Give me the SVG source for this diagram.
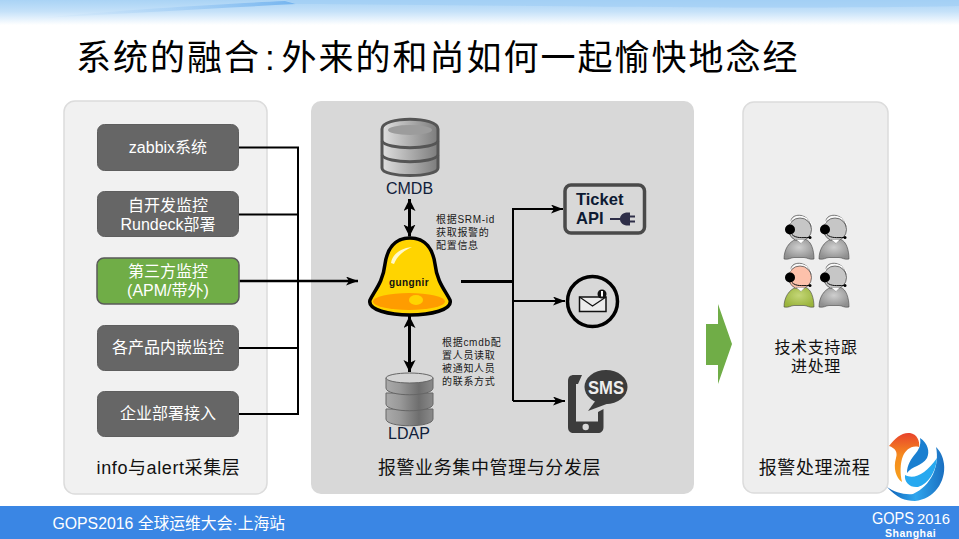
<svg xmlns="http://www.w3.org/2000/svg" width="959" height="539" viewBox="0 0 959 539">
<style>
text{font-family:"Liberation Sans","Noto Sans CJK SC",sans-serif}
.c{text-anchor:middle}
.w{fill:#fff;font-size:16px}
.k{fill:#111;font-size:18px;letter-spacing:.6px}
.s{fill:#111;font-size:16px;letter-spacing:.6px}
.n{fill:#1a1a1a;font-size:10px;letter-spacing:.7px}
.panel{stroke:#dcdcdc;stroke-width:1.5}
.box{fill:#666;stroke:#5e5e5e;stroke-width:1}
.l{fill:none;stroke:#000;stroke-width:2}
.t{fill:none;stroke:#000;stroke-width:3}
.m{fill:none;stroke:#000;stroke-width:2.500}
.disk{fill:url(#ld);stroke:#666;stroke-width:1}
</style>
<defs>
<linearGradient id="top" x1="0" y1="0" x2="0" y2="1"><stop offset="0" stop-color="#a9d3f5"/><stop offset=".45" stop-color="#c4e1f9"/><stop offset="1" stop-color="#fff"/></linearGradient>
<linearGradient id="swoosh" x1="0" y1="0" x2="1" y2="0"><stop offset="0" stop-color="#cfe6fa" stop-opacity=".2"/><stop offset="1" stop-color="#74b4ef"/></linearGradient>
<linearGradient id="dbg" x1="0" y1="0" x2="1" y2="0"><stop offset="0" stop-color="#e0e0e0"/><stop offset=".6" stop-color="#a4a4a4"/><stop offset="1" stop-color="#7c7c7c"/></linearGradient>
<linearGradient id="ld" x1="0" y1="0" x2="1" y2="0"><stop offset="0" stop-color="#aaa"/><stop offset=".3" stop-color="#999"/><stop offset=".7" stop-color="#6e6e6e"/><stop offset="1" stop-color="#8a8a8a"/></linearGradient>
<linearGradient id="ring" x1="0" y1="0" x2="1" y2="0"><stop offset="0" stop-color="#0d5fb5"/><stop offset=".5" stop-color="#2fa6ee"/><stop offset="1" stop-color="#1b6fc0"/></linearGradient>
<linearGradient id="fire" x1="0" y1="0" x2="0" y2="1"><stop offset="0" stop-color="#e8432c"/><stop offset=".45" stop-color="#f58a1f"/><stop offset="1" stop-color="#f7a21c"/></linearGradient>
<radialGradient id="gb" cx=".5" cy=".4" r=".6"><stop offset="0" stop-color="#cfcfcf"/><stop offset="1" stop-color="#8f8f8f"/></radialGradient>
<radialGradient id="gg" cx=".5" cy=".4" r=".6"><stop offset="0" stop-color="#c4d678"/><stop offset="1" stop-color="#9ab43c"/></radialGradient>
<marker id="ah" markerWidth="13" markerHeight="10" refX="12" refY="4.500" orient="auto-start-reverse" markerUnits="userSpaceOnUse"><path d="M0 0L12 4.500L0 9L3 4.500Z" fill="#000"/></marker>
<marker id="ab" markerWidth="14" markerHeight="14" refX="12" refY="6" orient="auto-start-reverse" markerUnits="userSpaceOnUse"><path d="M0 0L12 6L0 12L3 6Z" fill="#000"/></marker>
<path id="body" d="M-16 29.500C-16 20 -11 12 -4 10L6 10C11 12 14 20 14 29.500C9 30.500 7 28 4 28L-6 28C-9 28 -11 30.500 -16 29.500Z" stroke="#444" stroke-width=".6"/>
<g id="gear">
<path d="M-4 10L1 14L5 10Z" fill="#fff" stroke="#777" stroke-width=".4"/>
<path d="M-9 -8C-9 -17 9 -17 11 -3" fill="none" stroke="#555" stroke-width=".8"/>
<path d="M-10 -6C-8 -15 8 -16 12 -4" fill="none" stroke="#fff" stroke-width="1"/>
<circle cx="-10" cy="0" r="5"/>
<path d="M-8 5C-4 9 2 8 9 8" fill="none" stroke="#111" stroke-width="1"/>
<circle cx="10" cy="8" r="1.500"/>
</g>
</defs>

<rect id="bg" width="959" height="539" fill="#fff"/>
<g id="banner">
<rect width="959" height="25" fill="url(#top)"/>
<path d="M40 18C130 9 220 4 285 1L296 4C220 8 130 13 40 18Z" fill="url(#swoosh)"/>
<path d="M296 4L285 0L959 0L959 6C760 10 500 5 296 4Z" fill="#9fcdf5" opacity=".6"/>
</g>
<text id="title" y="70" font-size="35" fill="#000"><tspan x="76" letter-spacing="2">系统的融合</tspan><tspan x="265">:</tspan><tspan x="281.500" letter-spacing="2">外来的和尚如何一起愉快地念经</tspan></text>

<rect id="panel-collect" class="panel" x="64" y="101" width="203" height="393" rx="11" fill="#f1f1f1"/>
<rect id="panel-manage" x="311" y="101" width="383" height="393" rx="10" fill="#d8d8d8"/>
<rect id="panel-handle" class="panel" x="743" y="102" width="145" height="391" rx="11" fill="#eeeeee"/>

<g id="connectors">
<path class="l" d="M239 147.500H298V414H239M239 214.500H298M239 348H298"/>
<path class="m" d="M239.500 281H358" marker-end="url(#ah)"/>
<path class="t" d="M409.500 199V236.500" marker-start="url(#ab)" marker-end="url(#ab)"/>
<path class="t" d="M409.500 316V372" marker-start="url(#ab)" marker-end="url(#ab)"/>
<path class="t" d="M461 281.500H513"/>
<path class="l" d="M513 401V209H563" marker-end="url(#ah)"/>
<path class="l" d="M513 301H565" marker-end="url(#ah)"/>
<path class="l" d="M513 401H565" marker-end="url(#ah)"/>
</g>

<g id="n-zabbix"><rect class="box" x="97.500" y="124.500" width="141" height="46" rx="7"/><text class="w c" x="168" y="153">zabbix系统</text></g>
<g id="n-rundeck"><rect class="box" x="97.500" y="191.500" width="141" height="45" rx="7"/><text class="w c" x="168" y="211">自开发监控</text><text class="w c" x="168" y="230">Rundeck部署</text></g>
<g id="n-third"><rect x="97" y="258" width="142" height="46" rx="7" fill="#70ad47" stroke="#595959" stroke-width="1.500"/><text class="w c" x="168" y="277">第三方监控</text><text class="w c" x="168" y="296">(APM/带外)</text></g>
<g id="n-embedded"><rect class="box" x="97.500" y="325.500" width="141" height="45" rx="7"/><text class="w c" x="168" y="353">各产品内嵌监控</text></g>
<g id="n-enterprise"><rect class="box" x="97.500" y="391.500" width="141" height="45" rx="7"/><text class="w c" x="168" y="419">企业部署接入</text></g>
<text id="label-collect" class="k c" x="168.500" y="474">info与alert采集层</text>

<g id="n-cmdb">
<path d="M382 129C382 116 438 116 438 129V168C438 178 382 178 382 168Z" fill="url(#dbg)" stroke="#555" stroke-width="3"/>
<path d="M382 141C386 150 434 150 438 141M382 155C386 164 434 164 438 155" fill="none" stroke="#555" stroke-width="3"/>
<ellipse cx="410" cy="130" rx="22" ry="5" fill="#9c9c9c"/>
<text x="409.500" y="194" class="c" font-size="16" fill="#10203a">CMDB</text>
</g>
<g id="n-gungnir">
<path d="M410 238C426 238 433 250 435 264C437 282 445 290 450 300C453 310 430 315 410 315C390 315 367 310 370 300C375 290 383 282 385 264C387 250 394 238 410 238Z" fill="#ffd400" stroke="#000" stroke-width="3.500"/>
<ellipse cx="409" cy="301.500" rx="36" ry="8.500" fill="#ff9c00"/>
<ellipse cx="416" cy="300" rx="7" ry="5" fill="#ffd400"/>
<path d="M391 263C392 255 400 248 412 247C403 251 397 256 394 264Z" fill="#fff8c8"/>
<text x="409" y="286" class="c" font-size="10" font-weight="bold" fill="#111" letter-spacing=".4">gungnir</text>
</g>
<g id="n-ldap">
<path class="disk" d="M386 409V419C386 428 433 428 433 419V409Z"/>
<path class="disk" d="M386 393V404C386 413 433 413 433 404V393Z"/>
<path class="disk" d="M386 378V388C386 397 433 397 433 388V378Z"/>
<ellipse cx="409.500" cy="378" rx="23.500" ry="5" fill="#d4d4d4" stroke="#666"/>
<text x="409" y="439" class="c" font-size="16" fill="#10203a">LDAP</text>
</g>
<text id="note-srm" class="n"><tspan x="436" y="223">根据SRM-id</tspan><tspan x="436" y="236">获取报警的</tspan><tspan x="436" y="249">配置信息</tspan></text>
<text id="note-cmdb" class="n"><tspan x="442" y="346">根据cmdb配</tspan><tspan x="442" y="359">置人员读取</tspan><tspan x="442" y="372">被通知人员</tspan><tspan x="442" y="385">的联系方式</tspan></text>

<g id="n-ticket">
<rect x="565" y="185" width="79.500" height="48" rx="6" fill="#d8d8d8" stroke="#4a4a4a" stroke-width="3.500"/>
<text font-size="16.500" font-weight="bold" fill="#0d1a33"><tspan x="576" y="205">Ticket</tspan><tspan x="576" y="224">API</tspan></text>
<path d="M610 218H620C621 214 624 212.500 628 212.500H630V215.500H635V217.500H630V220.500H635V222.500H630V225.500H628C624 225.500 621 224 620 220H610Z" fill="#2e2e48"/>
</g>
<g id="n-mail">
<circle cx="592.500" cy="301.500" r="25" fill="#d8d8d8" stroke="#000" stroke-width="3.500"/>
<path d="M579.500 297H606V311.500H579.500Z" fill="#ececec" stroke="#111" stroke-width="1.500"/>
<path d="M579.500 297L592.500 306L606 297" fill="none" stroke="#111" stroke-width="1.200"/>
<circle cx="602" cy="294" r="4.500" fill="#111"/><rect x="601" y="291" width="2" height="5.500" fill="#fff"/>
</g>
<g id="n-sms">
<path d="M574 375H582L578 384H576V421.500H598V412L603.500 409V427C603.500 431 601 433 598 433H574C570 433 568 431 568 427V381C568 377 570 375 574 375Z" fill="#3c3c3c"/>
<circle cx="585.700" cy="427" r="3.200" fill="#d8d8d8"/>
<ellipse cx="606" cy="387" rx="21.500" ry="17" fill="#3c3c3c"/>
<path d="M596 400L588 411L612 402Z" fill="#3c3c3c"/>
<text x="606" y="393.500" class="c" font-size="18" font-weight="bold" fill="#eee" textLength="36" lengthAdjust="spacingAndGlyphs">SMS</text>
</g>
<text id="label-manage" class="k c" x="489.500" y="474">报警业务集中管理与分发层</text>

<path id="big-arrow" d="M706 324H718V304L732 344L718 384V365H706Z" fill="#70ad47"/>

<g id="n-agents">
<g transform="translate(800 229.500)"><use href="#body" fill="url(#gb)"/><circle r="11.500" fill="#c6c6c6" stroke="#444" stroke-width=".7"/><use href="#gear"/></g>
<g transform="translate(835 229.500)"><use href="#body" fill="url(#gb)"/><circle r="11.500" fill="#c6c6c6" stroke="#444" stroke-width=".7"/><use href="#gear"/></g>
<g transform="translate(800 277.500)"><use href="#body" fill="url(#gg)"/><circle r="11.500" fill="#fdc1ab" stroke="#444" stroke-width=".7"/><use href="#gear"/></g>
<g transform="translate(835 277.500)"><use href="#body" fill="url(#gb)"/><circle r="11.500" fill="#c6c6c6" stroke="#444" stroke-width=".7"/><use href="#gear"/></g>
</g>
<text id="label-support" class="s c"><tspan x="816" y="353">技术支持跟</tspan><tspan x="816" y="372">进处理</tspan></text>
<text id="label-handle" class="k c" x="814.500" y="474">报警处理流程</text>

<rect id="footer" y="506" width="959" height="33" fill="#3a86e4"/>
<text id="footer-text" x="52.500" y="529" font-size="15.800" fill="#fff">GOPS2016 全球运维大会·上海站</text>
<g id="logo">
<path d="M887 487C897 498 905 501 915 501C934 499 946 482 944 464C943 456 940 451 936 447C940 466 931 486 913 494C904 495 894 492 887 487Z" fill="url(#ring)"/>
<path d="M920 438C928 443 930 452 927 458C922 466 912 466 907 473C907 465 911 459 916 453C920 448 921 443 920 438Z" fill="#1a7fd0"/>
<path d="M905 475C914 480 926 474 937 458C936 472 928 484 918 487C910 488 904 482 905 475Z" fill="#27a9f0"/>
<path d="M889 446C895 438 902 432 910 433C917 434 920 441 919 447C911 445 906 450 903 456C900 463 900 474 902 482C896 478 893 468 896 458C898 452 895 448 889 446Z" fill="url(#fire)"/>
</g>
<g id="gops-logo"><text x="872" y="524" font-size="16" fill="#fff" textLength="42" lengthAdjust="spacingAndGlyphs">GOPS</text><text x="917" y="524" font-size="14.500" fill="#fff" textLength="33" lengthAdjust="spacingAndGlyphs">2016</text><text x="885" y="537" font-size="10.500" font-weight="bold" fill="#fff" letter-spacing=".5">Shanghai</text></g>
</svg>
